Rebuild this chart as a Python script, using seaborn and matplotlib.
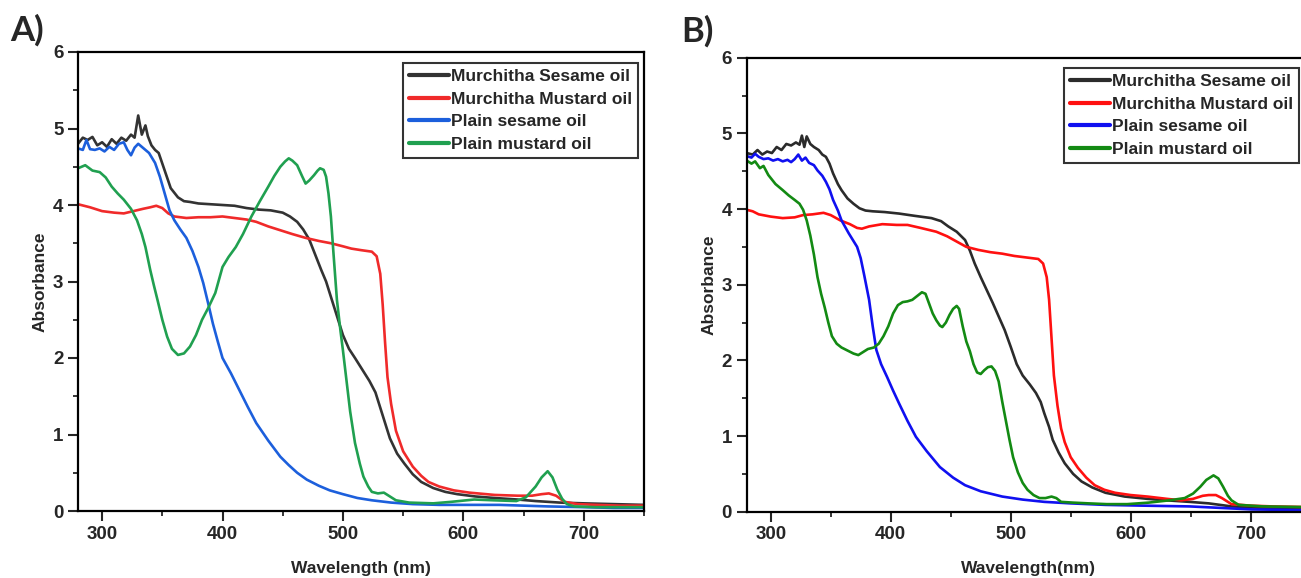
import matplotlib
matplotlib.use("Agg")
import matplotlib.pyplot as plt
from matplotlib.ticker import MultipleLocator
import pandas as pd
import seaborn as sns

# ---- data ----
labels = ["Murchitha Sesame oil", "Murchitha Mustard oil", "Plain sesame oil", "Plain mustard oil"]

# Panel A
a_ms_wl = [280, 284, 288, 292, 296, 300, 304, 308, 312, 316, 320, 324, 327, 330, 333, 336, 338, 341, 344, 347,
           352, 357, 363, 368, 373, 380, 390, 400, 410, 420, 430, 440, 450, 456, 462, 467, 472, 477, 482, 486,
           490, 495, 500, 505, 510, 516, 522, 527, 531, 535, 539, 545, 551, 558, 565, 575, 585, 595, 610, 626,
           645, 660, 680, 700, 725, 750]
a_ms_abs = [4.80, 4.88, 4.85, 4.89, 4.78, 4.82, 4.76, 4.86, 4.80, 4.88, 4.84, 4.92, 4.88, 5.17, 4.92, 5.04, 4.90, 4.78, 4.72, 4.68,
            4.45, 4.22, 4.10, 4.05, 4.04, 4.02, 4.01, 4.00, 3.99, 3.96, 3.94, 3.93, 3.90, 3.85, 3.78, 3.68, 3.55, 3.35, 3.15, 3.00,
            2.80, 2.55, 2.30, 2.12, 2.00, 1.85, 1.70, 1.55, 1.35, 1.15, 0.95, 0.75, 0.62, 0.48, 0.38, 0.30, 0.25, 0.22, 0.19, 0.17,
            0.15, 0.13, 0.11, 0.10, 0.09, 0.08]

a_mm_wl = [280, 290, 300, 310, 318, 326, 334, 340, 345, 350, 355, 360, 370, 380, 390, 400, 410, 420, 428, 438,
           448, 458, 469, 480, 490, 500, 507, 515, 524, 528, 531, 533, 535, 537, 540, 544, 550, 558, 565, 571,
           580, 592, 605, 626, 645, 657, 665, 671, 677, 684, 695, 710, 730, 750]
a_mm_abs = [4.01, 3.97, 3.92, 3.90, 3.89, 3.92, 3.95, 3.97, 3.99, 3.96, 3.89, 3.85, 3.83, 3.84, 3.84, 3.85, 3.83, 3.81, 3.78, 3.72,
            3.67, 3.62, 3.57, 3.53, 3.50, 3.46, 3.43, 3.41, 3.39, 3.33, 3.10, 2.70, 2.20, 1.75, 1.40, 1.05, 0.78, 0.58, 0.46, 0.38,
            0.32, 0.27, 0.24, 0.21, 0.20, 0.20, 0.22, 0.23, 0.20, 0.12, 0.09, 0.08, 0.07, 0.07]

a_ps_wl = [280, 284, 287, 290, 294, 298, 302, 306, 310, 314, 318, 321, 324, 327, 330, 333, 339, 344, 348, 352,
           356, 360, 365, 370, 375, 380, 384, 388, 392, 396, 400, 407, 414, 421, 428, 438, 448, 455, 462, 470,
           480, 489, 500, 512, 524, 540, 558, 580, 600, 630, 650, 670, 700, 725, 750]
a_ps_abs = [4.74, 4.72, 4.85, 4.73, 4.72, 4.74, 4.70, 4.76, 4.72, 4.80, 4.82, 4.72, 4.65, 4.75, 4.80, 4.76, 4.68, 4.55, 4.37, 4.15,
            3.93, 3.80, 3.68, 3.57, 3.40, 3.19, 2.98, 2.72, 2.45, 2.22, 2.00, 1.80, 1.58, 1.36, 1.15, 0.92, 0.71, 0.60, 0.50, 0.41,
            0.33, 0.27, 0.22, 0.17, 0.14, 0.11, 0.09, 0.08, 0.08, 0.08, 0.07, 0.06, 0.05, 0.04, 0.04]

a_pm_wl = [280, 286, 292, 298, 303, 308, 313, 318, 324, 329, 333, 336, 340, 343, 346, 350, 354, 358, 363, 368,
           373, 378, 383, 388, 394, 400, 405, 411, 417, 424, 431, 438, 443, 448, 452, 455, 458, 462, 466, 469,
           472, 476, 479, 481, 484, 486, 488, 490, 492, 495, 498, 500, 503, 506, 510, 514, 517, 521, 524, 529,
           534, 538, 544, 555, 575, 590, 609, 625, 644, 652, 660, 665, 670, 674, 678, 682, 686, 692, 710, 750]
a_pm_abs = [4.48, 4.52, 4.45, 4.43, 4.36, 4.24, 4.15, 4.07, 3.95, 3.80, 3.62, 3.45, 3.15, 2.95, 2.76, 2.50, 2.28, 2.12, 2.04, 2.06,
            2.15, 2.30, 2.50, 2.65, 2.85, 3.19, 3.32, 3.45, 3.62, 3.85, 4.05, 4.24, 4.38, 4.50, 4.57, 4.61, 4.58, 4.52, 4.38, 4.28,
            4.32, 4.39, 4.45, 4.48, 4.46, 4.37, 4.15, 3.85, 3.40, 2.76, 2.35, 2.10, 1.70, 1.30, 0.89, 0.62, 0.45, 0.32, 0.25, 0.23,
            0.24, 0.20, 0.14, 0.11, 0.10, 0.12, 0.15, 0.14, 0.13, 0.18, 0.32, 0.44, 0.52, 0.44, 0.28, 0.16, 0.09, 0.06, 0.05, 0.05]

# Panel B
b_ms_wl = [280, 285, 289, 293, 297, 301, 305, 309, 313, 317, 321, 324, 326, 328, 330, 333, 336, 340, 343, 346,
           349, 352, 356, 359, 364, 369, 374, 379, 385, 395, 407, 420, 434, 442, 448, 455, 462, 466, 470, 475,
           480, 485, 490, 495, 500, 505, 510, 516, 521, 525, 528, 532, 535, 540, 545, 552, 559, 568, 579, 595,
           614, 630, 649, 665, 684, 710, 750]
b_ms_abs = [4.74, 4.72, 4.78, 4.72, 4.76, 4.74, 4.82, 4.78, 4.86, 4.84, 4.88, 4.85, 4.97, 4.82, 4.96, 4.86, 4.82, 4.78, 4.72, 4.69,
            4.60, 4.47, 4.33, 4.25, 4.14, 4.07, 4.01, 3.98, 3.97, 3.96, 3.94, 3.91, 3.88, 3.84, 3.77, 3.70, 3.59, 3.45, 3.28, 3.10,
            2.93, 2.76, 2.58, 2.40, 2.18, 1.95, 1.80, 1.68, 1.57, 1.45, 1.30, 1.12, 0.95, 0.78, 0.64, 0.50, 0.40, 0.32, 0.25, 0.20,
            0.17, 0.15, 0.13, 0.11, 0.07, 0.05, 0.05]

b_mm_wl = [280, 285, 290, 300, 310, 320, 327, 335, 344, 350, 358, 366, 372, 376, 382, 393, 405, 414, 425, 438,
           447, 455, 463, 473, 483, 493, 503, 513, 523, 527, 530, 532, 534, 536, 539, 542, 545, 550, 556, 563,
           570, 578, 587, 600, 614, 630, 642, 652, 660, 665, 671, 676, 684, 700, 718, 750]
b_mm_abs = [3.99, 3.97, 3.93, 3.90, 3.88, 3.89, 3.92, 3.93, 3.95, 3.92, 3.85, 3.80, 3.75, 3.74, 3.77, 3.80, 3.79, 3.79, 3.75, 3.70,
            3.64, 3.57, 3.50, 3.46, 3.43, 3.41, 3.38, 3.36, 3.34, 3.28, 3.10, 2.80, 2.30, 1.80, 1.40, 1.10, 0.92, 0.72, 0.58, 0.45,
            0.35, 0.29, 0.25, 0.22, 0.20, 0.17, 0.15, 0.17, 0.21, 0.22, 0.22, 0.18, 0.10, 0.08, 0.07, 0.06]

b_ps_wl = [280, 284, 287, 290, 294, 298, 302, 306, 310, 314, 317, 320, 323, 326, 329, 332, 336, 339, 343, 346,
           349, 352, 356, 359, 365, 372, 375, 378, 382, 385, 388, 392, 397, 402, 407, 414, 421, 430, 441, 452,
           462, 475, 493, 510, 528, 550, 579, 610, 649, 675, 701, 750]
b_ps_abs = [4.70, 4.68, 4.73, 4.69, 4.66, 4.67, 4.64, 4.66, 4.63, 4.65, 4.62, 4.66, 4.72, 4.64, 4.68, 4.61, 4.58, 4.51, 4.44, 4.36,
            4.26, 4.12, 3.98, 3.85, 3.68, 3.50, 3.35, 3.12, 2.80, 2.45, 2.14, 1.95, 1.78, 1.60, 1.43, 1.20, 0.99, 0.80, 0.59, 0.45,
            0.35, 0.27, 0.20, 0.16, 0.13, 0.11, 0.09, 0.08, 0.07, 0.05, 0.03, 0.02]

b_pm_wl = [280, 284, 287, 291, 294, 298, 304, 310, 315, 320, 324, 327, 330, 333, 336, 339, 342, 345, 348, 351,
           355, 359, 364, 369, 373, 377, 381, 386, 390, 394, 398, 402, 406, 410, 414, 418, 422, 426, 429, 432,
           435, 438, 441, 443, 446, 449, 452, 455, 457, 460, 463, 466, 469, 472, 475, 478, 481, 484, 487, 490,
           493, 496, 499, 502, 506, 510, 514, 519, 524, 529, 534, 538, 542, 552, 565, 580, 597, 615, 632, 645,
           652, 658, 663, 669, 673, 677, 681, 684, 690, 710, 750]
b_pm_abs = [4.64, 4.60, 4.63, 4.54, 4.57, 4.45, 4.33, 4.25, 4.18, 4.12, 4.07, 3.99, 3.85, 3.65, 3.40, 3.10, 2.88, 2.70, 2.50, 2.32,
            2.22, 2.17, 2.13, 2.09, 2.07, 2.11, 2.15, 2.17, 2.22, 2.32, 2.45, 2.62, 2.73, 2.77, 2.78, 2.80, 2.85, 2.90, 2.88, 2.75,
            2.62, 2.53, 2.46, 2.44, 2.50, 2.60, 2.68, 2.72, 2.68, 2.45, 2.25, 2.12, 1.95, 1.84, 1.82, 1.87, 1.91, 1.92, 1.86, 1.72,
            1.45, 1.20, 0.95, 0.72, 0.52, 0.38, 0.29, 0.22, 0.18, 0.18, 0.20, 0.18, 0.13, 0.12, 0.11, 0.10, 0.10, 0.12, 0.15, 0.18,
            0.24, 0.33, 0.42, 0.48, 0.44, 0.33, 0.21, 0.15, 0.09, 0.07, 0.06]

colors_a = ["#333333", "#f02a2a", "#1c5fdc", "#20a050"]
colors_b = ["#2b2b2b", "#ff1010", "#1010f0", "#138a13"]


def to_long(curves):
    frames = []
    for name, (wl, ab) in zip(labels, curves):
        assert len(wl) == len(ab), name
        frames.append(pd.DataFrame({"wl": wl, "abs": ab, "sample": name}))
    return pd.concat(frames, ignore_index=True)


df_a = to_long([(a_ms_wl, a_ms_abs), (a_mm_wl, a_mm_abs), (a_ps_wl, a_ps_abs), (a_pm_wl, a_pm_abs)])
df_b = to_long([(b_ms_wl, b_ms_abs), (b_mm_wl, b_mm_abs), (b_ps_wl, b_ps_abs), (b_pm_wl, b_pm_abs)])

sns.set_style("ticks")
plt.rcParams["font.family"] = ["Liberation Sans", "DejaVu Sans"]
plt.rcParams["font.weight"] = "bold"
plt.rcParams["axes.labelweight"] = "bold"

W, H = 1301, 578
fig = plt.figure(figsize=(W / 100, H / 100), dpi=100)
ax_a = fig.add_axes([78 / W, 1 - 511 / H, 566 / W, 459 / H])
ax_b = fig.add_axes([746.7 / W, 1 - 511.7 / H, 564 / W, 454 / H])


def draw(ax, df, colors, xlabel, leg_anchor):
    sns.lineplot(data=df, x="wl", y="abs", hue="sample", palette=colors, estimator=None,
                 sort=False, linewidth=1.9, ax=ax, legend=True)
    ax.set_xlim(280, 750)
    ax.set_ylim(0, 6)
    ax.xaxis.set_major_locator(MultipleLocator(100))
    ax.xaxis.set_minor_locator(MultipleLocator(50))
    ax.yaxis.set_major_locator(MultipleLocator(1))
    ax.yaxis.set_minor_locator(MultipleLocator(0.5))
    ax.tick_params(which="major", length=7, width=1.5, labelsize=13.5, pad=3.5)
    ax.tick_params(which="minor", length=3.5, width=1.3)
    for lab in ax.get_xticklabels() + ax.get_yticklabels():
        lab.set_fontweight("bold")
    for s in ax.spines.values():
        s.set_linewidth(1.6)
        s.set_color("black")
    ax.set_xlabel(xlabel, fontsize=12.5, fontweight="bold", labelpad=13)
    ax.set_ylabel("Absorbance", fontsize=12.5, fontweight="bold", labelpad=4)
    handles, _ = ax.get_legend_handles_labels()
    for h in handles:
        h.set_linewidth(3)
    leg = ax.legend(handles, labels, loc="upper right", bbox_to_anchor=leg_anchor,
                    borderaxespad=0, fancybox=False, frameon=True, handlelength=2.3,
                    handletextpad=0.1, labelspacing=0.42, borderpad=0.35,
                    prop={"weight": "bold", "size": 12.5})
    leg.get_frame().set_edgecolor("black")
    leg.get_frame().set_linewidth(1.5)


draw(ax_a, df_a, colors_a, "Wavelength (nm)", (0.9894, 0.976))
draw(ax_b, df_b, colors_b, "Wavelength(nm)", (0.979, 0.977))

fig.text(10 / W, 1 - 14 / H, "A)", fontsize=25, fontweight="bold", va="top", ha="left",
         family=["Lato", "DejaVu Sans"])
fig.text(681 / W, 1 - 15 / H, "B)", fontsize=25, fontweight="bold", va="top", ha="left",
         family=["Lato", "DejaVu Sans"])

fig.savefig("out.png", dpi=100)
